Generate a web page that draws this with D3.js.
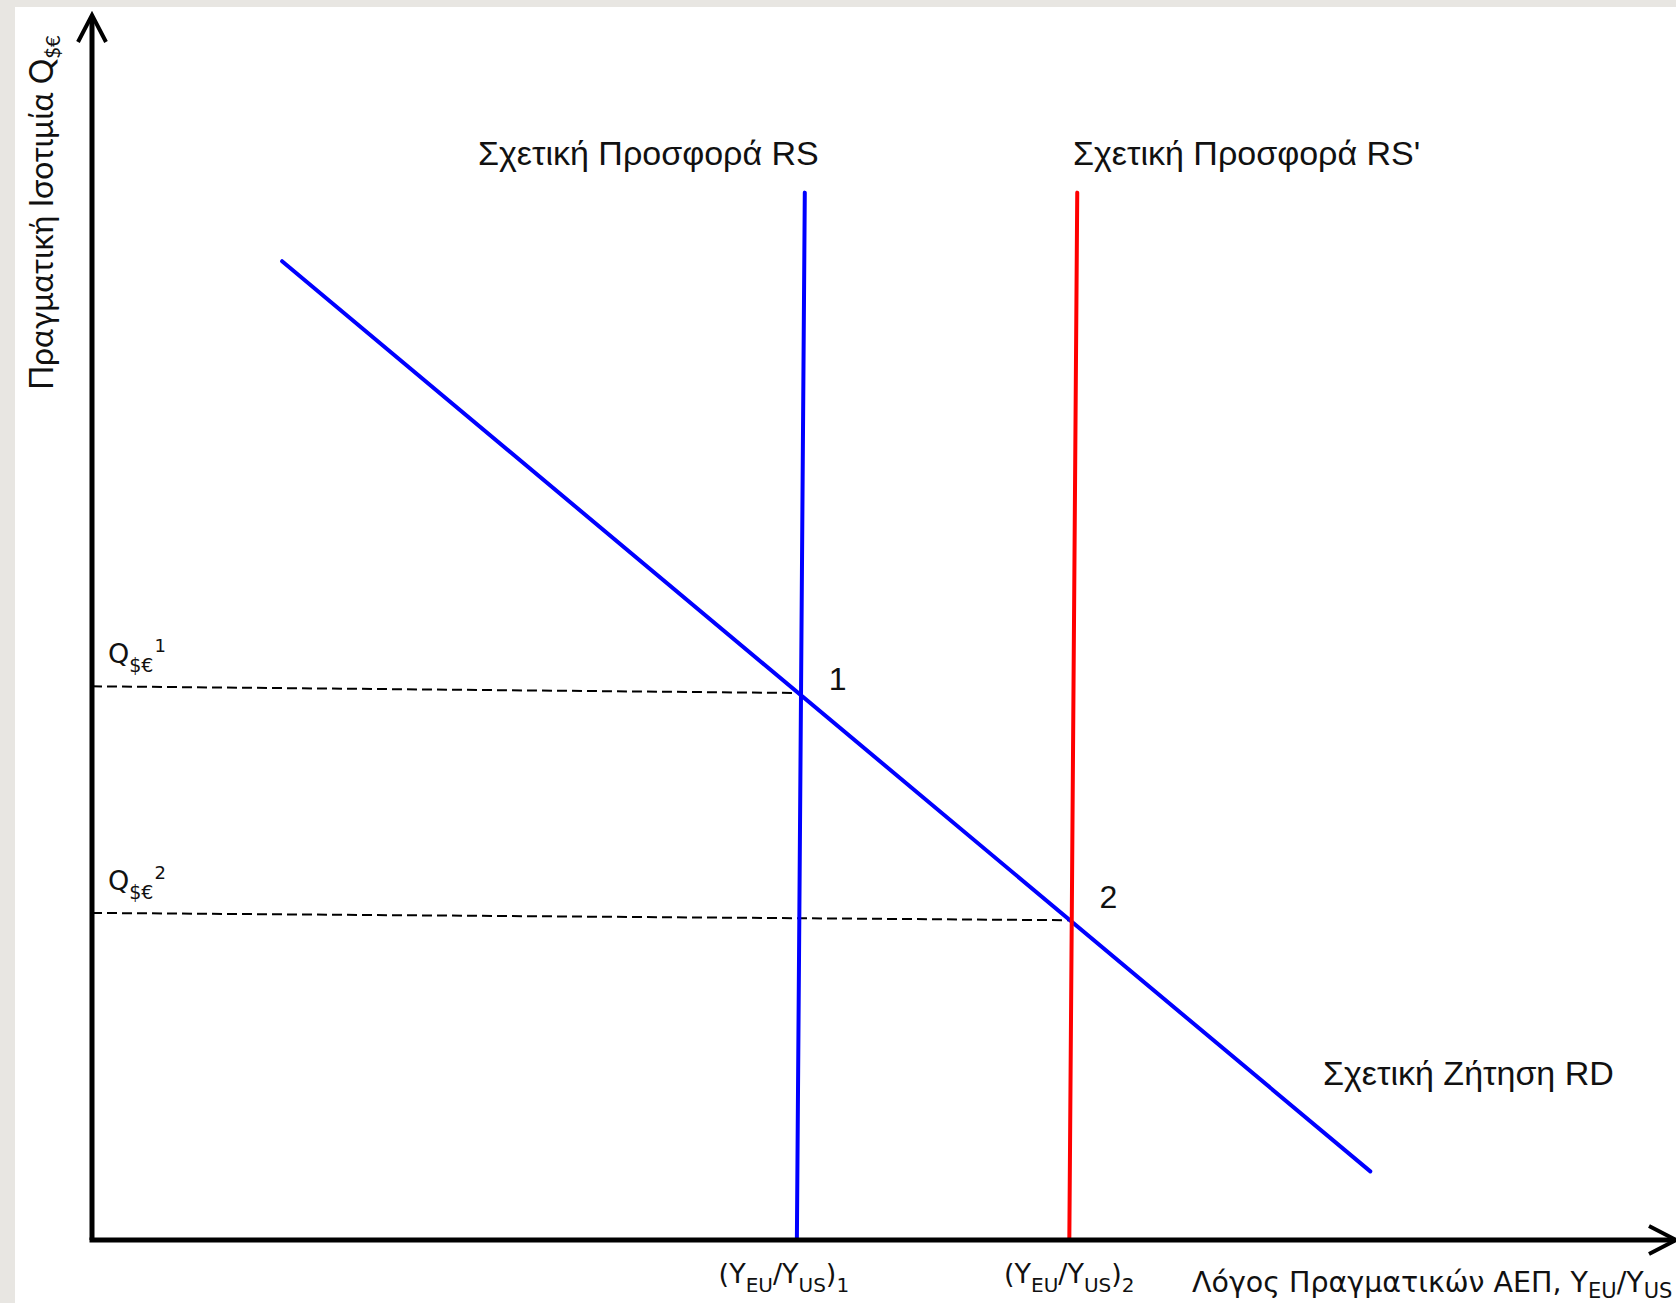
<!DOCTYPE html>
<html>
<head>
<meta charset="utf-8">
<script src="https://cdn.jsdelivr.net/npm/d3@7"></script>
<style>
  body { margin: 0; background: #e8e6e2; overflow: hidden; }
  svg { display: block; }
</style>
</head>
<body>
<div id="chart"></div>
<script>
// curves, in chart units (x: 0..100 ratio of GDP, y: 0..100 real exchange rate)
var rsLine = [[45.0, 85.5], [44.5, 0]];
var rsPrimeLine = [[62.2, 85.5], [61.7, 0]];
var rdLine = [[12.0, 79.9], [80.7, 5.6]];
var equilibria = [[44.8, 44.65], [61.9, 26.1]];
var equilibriumNames = ["1", "2"];
var qLevels = [45.2, 26.7];
var qSupers = ["1", "2"];
var xTickSubs = ["1", "2"];

var width = 1676;
var height = 1303;

var x0 = 92, x1 = 1676;
var y0 = 1240, y1 = 15;

var svg = d3.select("#chart")
    .append("svg")
    .attr("width", width)
    .attr("height", height);

// paper
svg.append("rect")
    .attr("x", 15).attr("y", 7)
    .attr("width", width - 15).attr("height", height - 7)
    .attr("fill", "#ffffff");

var xScale = d3.scaleLinear().domain([0, 100]).range([x0, x1]);
var yScale = d3.scaleLinear().domain([0, 100]).range([y0, y1]);

var line = d3.line()
    .x(function(d) { return xScale(d[0]); })
    .y(function(d) { return yScale(d[1]); });

// dashed guides from y axis to the equilibria
equilibria.forEach(function(p, i) {
    svg.append("path")
        .attr("d", line([[0, qLevels[i]], p]))
        .attr("fill", "none")
        .attr("stroke", "#000")
        .attr("stroke-width", 2)
        .attr("stroke-dasharray", "10,5");
});

svg.append("path").attr("d", line(rdLine))
    .attr("fill", "none").attr("stroke", "#0000ff").attr("stroke-width", 4)
    .attr("stroke-linecap", "round");
svg.append("path").attr("d", line(rsLine))
    .attr("fill", "none").attr("stroke", "#0000ff").attr("stroke-width", 4)
    .attr("stroke-linecap", "round");
svg.append("path").attr("d", line(rsPrimeLine))
    .attr("fill", "none").attr("stroke", "#ff0000").attr("stroke-width", 4)
    .attr("stroke-linecap", "round");

// axes
svg.append("line")
    .attr("x1", xScale(0)).attr("y1", yScale(0))
    .attr("x2", xScale(0)).attr("y2", yScale(100) + 2)
    .attr("stroke", "#000").attr("stroke-width", 5);
svg.append("line")
    .attr("x1", xScale(0) - 2.5).attr("y1", yScale(0))
    .attr("x2", xScale(100) - 2).attr("y2", yScale(0))
    .attr("stroke", "#000").attr("stroke-width", 5);
// arrow heads
svg.append("path")
    .attr("d", "M" + (xScale(0) - 14) + "," + (yScale(100) + 27) +
        " L" + xScale(0) + "," + yScale(100) +
        " L" + (xScale(0) + 14) + "," + (yScale(100) + 27))
    .attr("fill", "none").attr("stroke", "#000").attr("stroke-width", 4);
svg.append("path")
    .attr("d", "M" + (xScale(100) - 27) + "," + (yScale(0) - 14) +
        " L" + xScale(100) + "," + yScale(0) +
        " L" + (xScale(100) - 27) + "," + (yScale(0) + 14))
    .attr("fill", "none").attr("stroke", "#000").attr("stroke-width", 4);

// curve labels
var arial = "'Liberation Sans', Arial, sans-serif";
svg.append("text").attr("x", 478).attr("y", 165)
    .attr("font-family", arial).attr("font-size", 34).attr("fill", "#111")
    .text("Σχετική Προσφορά RS");
svg.append("text").attr("x", 1073).attr("y", 165)
    .attr("font-family", arial).attr("font-size", 34).attr("fill", "#111")
    .text("Σχετική Προσφορά RS'");
svg.append("text").attr("x", 1323).attr("y", 1085)
    .attr("font-family", arial).attr("font-size", 34).attr("fill", "#111")
    .text("Σχετική Ζήτηση RD");

equilibria.forEach(function(p, i) {
    svg.append("text")
        .attr("x", xScale(p[0]) + 27)
        .attr("y", yScale(p[1]) - 3 - i * 9)
        .attr("font-family", arial).attr("font-size", 32).attr("fill", "#111")
        .text(equilibriumNames[i]);
});

// Q labels on the y axis
var sans = "'DejaVu Sans', 'Open Sans', sans-serif";
qLevels.forEach(function(q, i) {
    var t = svg.append("text")
        .attr("x", 108).attr("y", yScale(q) - 23)
        .attr("font-family", sans).attr("font-size", 27).attr("fill", "#111");
    t.append("tspan").text("Q");
    t.append("tspan").attr("font-size", 19).attr("dy", 9).text("$€");
    t.append("tspan").attr("font-size", 18).attr("dy", -20).attr("dx", 1).text(qSupers[i]);
});

// tick labels under the x axis
[rsLine[1], rsPrimeLine[1]].forEach(function(p, i) {
    var t = svg.append("text")
        .attr("x", xScale(p[0]) - (i === 0 ? 13 : 0))
        .attr("y", 1283)
        .attr("text-anchor", "middle")
        .attr("font-family", sans).attr("font-size", 27).attr("fill", "#111");
    t.append("tspan").text("(Y");
    t.append("tspan").attr("font-size", 20).attr("dy", 9).text("EU");
    t.append("tspan").attr("dy", -9).text("/Y");
    t.append("tspan").attr("font-size", 20).attr("dy", 9).text("US");
    t.append("tspan").attr("dy", -9).text(")");
    t.append("tspan").attr("font-size", 20).attr("dy", 9).text(xTickSubs[i]);
});

// axis titles
var xt = svg.append("text")
    .attr("x", 1192).attr("y", 1292)
    .attr("font-family", sans).attr("font-size", 28.5).attr("fill", "#111");
xt.append("tspan").text("Λόγος Πραγματικών ΑΕΠ, Y");
xt.append("tspan").attr("font-size", 21).attr("dy", 6).text("EU");
xt.append("tspan").attr("dy", -6).text("/Y");
xt.append("tspan").attr("font-size", 21).attr("dy", 6).text("US");

var yt = svg.append("text")
    .attr("transform", "translate(53,390) rotate(-90)")
    .attr("font-family", "Lato, 'Open Sans', sans-serif")
    .attr("font-size", 32).attr("fill", "#111");
yt.append("tspan").text("Πραγματική Ισοτιμία Q");
yt.append("tspan").attr("font-size", 20).attr("dy", 7).text("$€");
</script>
</body>
</html>
